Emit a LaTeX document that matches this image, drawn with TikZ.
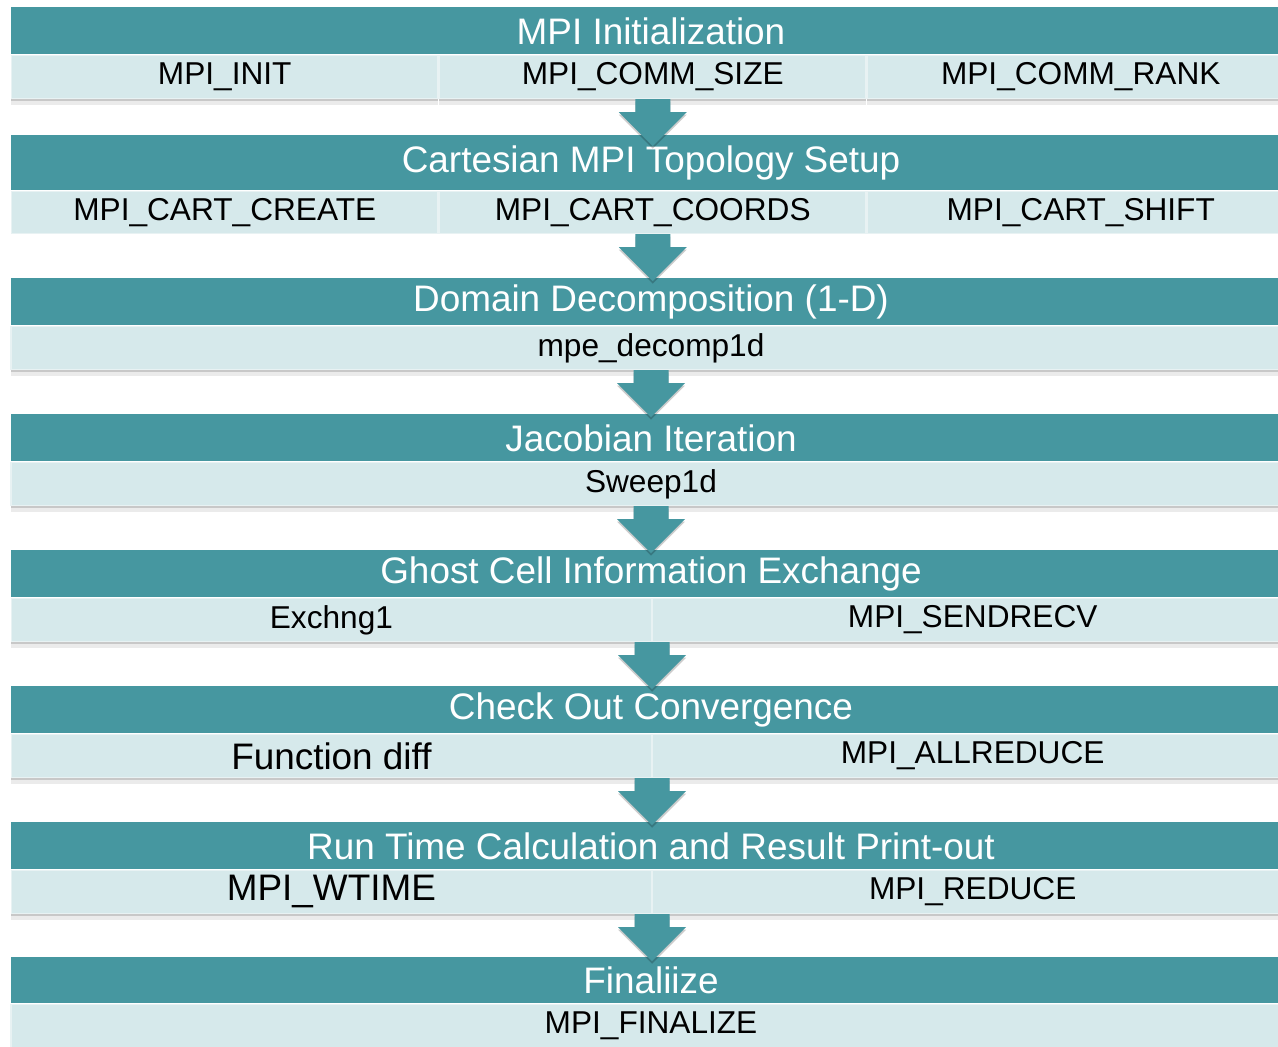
\documentclass[tikz,border=0pt]{standalone}
\usepackage{fontspec}
\setmainfont{Liberation Sans}
\usepackage{tikz}
\usetikzlibrary{positioning,shadows}

\definecolor{headteal}{RGB}{70,151,160}
\definecolor{celllight}{RGB}{214,233,235}
\definecolor{cellline}{RGB}{232,242,243}

\tikzset{
  head/.style={rectangle, fill=headteal, text=white, inner sep=0pt,
    font=\fontsize{21}{25}\selectfont, minimum width=25.6cm, minimum height=0.94cm, anchor=north},
  flatcell/.style={rectangle, fill=celllight, draw=cellline, line width=0.8pt, text=black, inner sep=0pt,
    font=\fontsize{18}{22}\selectfont, minimum height=0.86cm},
  cell/.style={flatcell,
    drop shadow={shadow xshift=0pt, shadow yshift=-1.5pt, fill=black, opacity=0.15},
    drop shadow={shadow xshift=0pt, shadow yshift=-3.5pt, fill=black, opacity=0.08}},
  third/.style={cell, minimum width=8.5333cm},
  flatthird/.style={flatcell, minimum width=8.5333cm, minimum height=0.84cm},
  half/.style={cell, minimum width=12.8cm},
  full/.style={cell, minimum width=25.6cm},
  big/.style={font=\fontsize{21}{25}\selectfont},
  flow/.style={fill=headteal,
    drop shadow={shadow xshift=0pt, shadow yshift=-1.5pt, fill=black, opacity=0.2}}
}

\begin{document}
\begin{tikzpicture}[x=0.02cm, y=-0.02cm]

  \useasboundingbox (0,0) rectangle (1278,1047);
  \clip (0,0) rectangle (1278,1047);

  % MPI initialization
  \node[head] (h1) at (651,7) {MPI Initialization};
  \node[third, anchor=north west] (c1a) at (h1.south west) {MPI\_INIT};
  \node[third, right=0pt of c1a] (c1b) {MPI\_COMM\_SIZE};
  \node[third, right=0pt of c1b] (c1c) {MPI\_COMM\_RANK};

  % Cartesian topology
  \node[head, minimum height=1.1cm] (h2) at (651,135) {Cartesian MPI Topology Setup};
  \node[flatthird, anchor=north west] (c2a) at (h2.south west) {MPI\_CART\_CREATE};
  \node[flatthird, right=0pt of c2a] (c2b) {MPI\_CART\_COORDS};
  \node[flatthird, right=0pt of c2b] (c2c) {MPI\_CART\_SHIFT};

  % Domain decomposition
  \node[head] (h3) at (651,278) {Domain Decomposition (1-D)};
  \node[full, anchor=north] (c3) at (h3.south) {mpe\_decomp1d};

  % Jacobian iteration
  \node[head] (h4) at (651,414) {Jacobian Iteration};
  \node[full, anchor=north] (c4) at (h4.south) {Sweep1d};

  % Ghost cells
  \node[head] (h5) at (651,550) {Ghost Cell Information Exchange};
  \node[half, anchor=north west] (c5a) at (h5.south west) {Exchng1};
  \node[half, right=0pt of c5a] (c5b) {MPI\_SENDRECV};

  % Convergence
  \node[head] (h6) at (651,686) {Check Out Convergence};
  \node[half, big, anchor=north west] (c6a) at (h6.south west) {Function diff};
  \node[half, right=0pt of c6a] (c6b) {MPI\_ALLREDUCE};

  % Run time
  \node[head] (h7) at (651,822) {Run Time Calculation and Result Print-out};
  \node[half, big, anchor=north west] (c7a) at (h7.south west) {MPI\_WTIME};
  \node[half, right=0pt of c7a] (c7b) {MPI\_REDUCE};

  % Finalize
  \node[head, minimum height=0.92cm] (h8) at (651,957) {Finaliize};
  \node[full, anchor=north] (c8) at (h8.south) {MPI\_FINALIZE};

  % Block arrows between the stages
  \foreach \a in {c1b.south, c2b.south, c3.south, c4.south, c5a.south east, c6a.south east, c7a.south east}
    \fill[flow] (\a) ++(-17.5,0) -- ++(0,13) -- ++(-16.5,0) -- ++(34,34) -- ++(34,-34) -- ++(-16.5,0) -- ++(0,-13) -- cycle;

\end{tikzpicture}
\end{document}
